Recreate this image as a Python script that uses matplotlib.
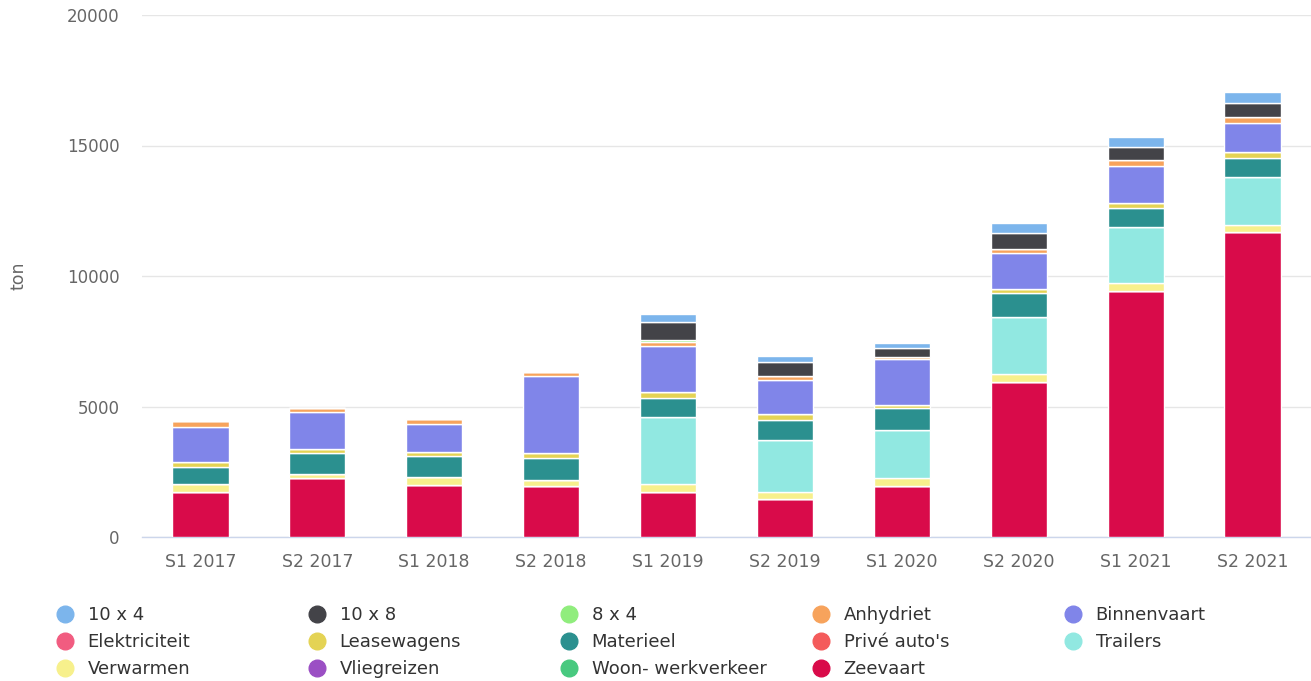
import matplotlib
matplotlib.use("Agg")
import matplotlib.pyplot as plt
from matplotlib.lines import Line2D
import numpy as np

categories = ["S1 2017", "S2 2017", "S1 2018", "S2 2018", "S1 2019",
              "S2 2019", "S1 2020", "S2 2020", "S1 2021", "S2 2021"]

# series in legend order (first = top of stack)
series_names = ["10 x 4", "10 x 8", "8 x 4", "Anhydriet", "Binnenvaart",
                "Elektriciteit", "Leasewagens", "Materieel", "Privé auto's", "Trailers",
                "Verwarmen", "Vliegreizen", "Woon- werkverkeer", "Zeevaart"]

s_10x4 = [0, 0, 0, 0, 320, 230, 180, 400, 380, 440]
s_10x8 = [0, 0, 0, 0, 690, 540, 330, 600, 510, 540]
s_8x4 = [0, 0, 0, 0, 80, 0, 0, 0, 0, 0]
s_anhydriet = [230, 170, 210, 150, 150, 150, 100, 150, 200, 200]
s_binnenvaart = [1340, 1430, 1060, 2960, 1750, 1300, 1740, 1400, 1420, 1130]
s_elektriciteit = [0, 0, 0, 0, 0, 0, 0, 0, 0, 0]
s_leasewagens = [200, 150, 180, 200, 240, 230, 130, 150, 200, 230]
s_materieel = [650, 790, 810, 820, 740, 770, 840, 910, 740, 720]
s_prive = [0, 0, 0, 0, 0, 0, 0, 0, 0, 0]
s_trailers = [0, 0, 0, 0, 2550, 2000, 1840, 2200, 2120, 1860]
s_verwarmen = [330, 150, 280, 250, 330, 270, 300, 300, 330, 250]
s_vliegreizen = [0, 0, 0, 0, 0, 0, 0, 0, 0, 0]
s_woonwerk = [0, 0, 0, 0, 0, 0, 0, 0, 0, 0]
s_zeevaart = [1710, 2270, 2000, 1950, 1710, 1450, 1960, 5930, 9420, 11690]

series_values = [s_10x4, s_10x8, s_8x4, s_anhydriet, s_binnenvaart,
                 s_elektriciteit, s_leasewagens, s_materieel, s_prive, s_trailers,
                 s_verwarmen, s_vliegreizen, s_woonwerk, s_zeevaart]

colors = ["#7cb5ec", "#434348", "#90ed7d", "#f7a35c", "#8085e9",
          "#f15c80", "#e4d354", "#2b908f", "#f45b5b", "#91e8e1",
          "#f7f08c", "#9b4fc4", "#48c97f", "#d90b4a"]

yticks = [0, 5000, 10000, 15000, 20000]

fig = plt.figure(figsize=(13.11, 6.81), dpi=100)
ax = fig.add_axes([142 / 1311, (681 - 537) / 681, (1311 - 142) / 1311, (537 - 15) / 681])

x = np.arange(len(categories))
bottom = np.zeros(len(categories))
# stack from the last series (bottom) up to the first (top)
for name, vals, col in reversed(list(zip(series_names, series_values, colors))):
    v = np.array(vals, dtype=float)
    ax.bar(x, v, width=0.48, bottom=bottom, color=col, edgecolor="white",
           linewidth=1.0, zorder=3)
    bottom += v

ax.set_xlim(-0.5, len(categories) - 0.5)
ax.set_ylim(0, 20000)
ax.set_yticks(yticks)
ax.set_yticklabels([str(t) for t in yticks])
ax.set_xticks(x)
ax.set_xticklabels(categories)
ax.grid(axis="y", color="#e6e6e6", linewidth=1, zorder=0)
for side in ["top", "right", "left"]:
    ax.spines[side].set_visible(False)
ax.spines["bottom"].set_color("#ccd6eb")
ax.spines["bottom"].set_linewidth(1)
ax.tick_params(axis="y", length=0, pad=16, labelsize=12, labelcolor="#666666")
ax.tick_params(axis="x", length=0, pad=11.5, labelsize=12.5, labelcolor="#666666")
ax.set_ylabel("ton", fontsize=12.5, color="#666666")
ax.yaxis.set_label_coords(-114 / 1169, 0.5)

# legend: 5 fixed-width columns, filled row by row
col_x = [56, 308, 560, 812, 1064]
for c in range(5):
    handles, labels = [], []
    for r in range(3):
        idx = r * 5 + c
        if idx < len(series_names):
            handles.append(Line2D([], [], marker="o", linestyle="none", markersize=12,
                                  markerfacecolor=colors[idx], markeredgecolor=colors[idx]))
            labels.append(series_names[idx])
    leg = fig.legend(handles, labels, loc="upper left",
                     bbox_to_anchor=(col_x[c] / 1311, 1 - 606 / 681),
                     frameon=False, fontsize=13, labelspacing=0.5,
                     handletextpad=0.75, handlelength=1.0, borderaxespad=0,
                     borderpad=0)
    for t in leg.get_texts():
        t.set_color("#333333")

fig.savefig("out.png", dpi=100)
